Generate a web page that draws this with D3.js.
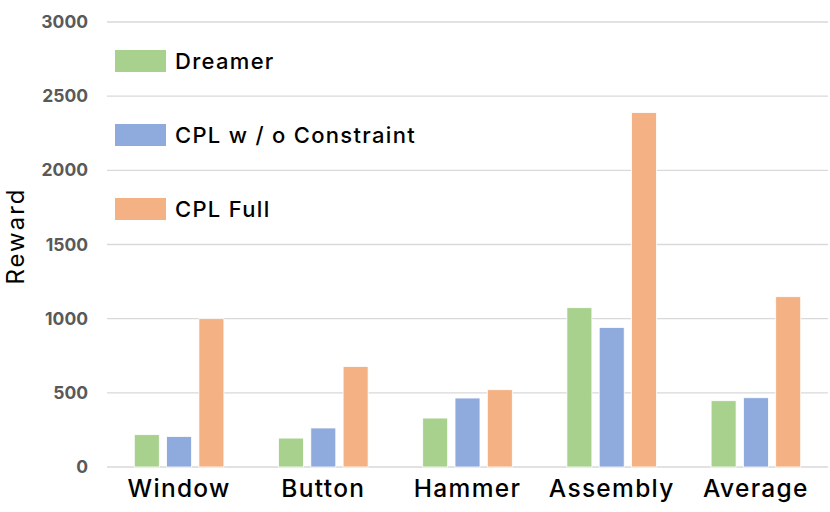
<!DOCTYPE html>
<html>
<head>
<meta charset="utf-8">
<script src="https://cdn.jsdelivr.net/npm/d3@7"></script>
<style>
  body { margin: 0; background: #fff; }
  svg { display: block; font-family: Inter, "Liberation Sans", Arial, sans-serif; }
</style>
</head>
<body>
<div id="chart"></div>
<script>
// chart data
const categories = ['Window', 'Button', 'Hammer', 'Assembly', 'Average'];
const seriesNames = ['Dreamer', 'CPL w / o Constraint', 'CPL Full'];
const dreamer = [218, 195, 330, 1074, 447];
const cplNoConstraint = [206, 263, 465, 941, 467];
const cplFull = [1000, 678, 521, 2389, 1148];
const yTicks = [0, 500, 1000, 1500, 2000, 2500, 3000];

const colors = ['#a9d18e', '#8faadc', '#f4b183'];
const allSeries = [dreamer, cplNoConstraint, cplFull];

const width = 830;
const height = 512;
const margin = { top: 22, right: 2, bottom: 45, left: 107 };
const font = 'Inter, "Liberation Sans", Arial, sans-serif';

const svg = d3.select('#chart')
  .append('svg')
  .attr('width', width)
  .attr('height', height);

const g = svg.append('g')
  .attr('transform', `translate(${margin.left},${margin.top})`);

const innerW = width - margin.left - margin.right;
const innerH = height - margin.top - margin.bottom;

const x = d3.scaleBand()
  .domain(categories)
  .range([0, innerW]);

const y = d3.scaleLinear()
  .domain([0, 3000])
  .range([innerH, 0]);

// gridlines
g.append('g')
  .selectAll('line')
  .data(yTicks)
  .enter().append('line')
  .attr('x1', 0)
  .attr('x2', innerW)
  .attr('y1', d => y(d))
  .attr('y2', d => y(d))
  .attr('stroke', '#d9d9d9')
  .attr('stroke-width', 1.3);

// y axis labels
const yAxis = g.append('g')
  .call(d3.axisLeft(y).tickValues(yTicks).tickFormat(d3.format('d')).tickSize(0).tickPadding(19));
yAxis.select('.domain').remove();
yAxis.selectAll('text')
  .attr('fill', '#595959')
  .style('font-size', '17.5px')
  .style('font-weight', '700')
  .style('font-family', font);

// bars
const barW = 25;
const step = 32.3;
allSeries.forEach((vals, si) => {
  g.append('g')
    .selectAll('rect')
    .data(vals)
    .enter().append('rect')
    .attr('x', (d, i) => x(categories[i]) + x.bandwidth() / 2 + (si - 1) * step - barW / 2)
    .attr('y', d => y(d))
    .attr('width', barW)
    .attr('height', d => innerH - y(d))
    .attr('fill', colors[si])
    .attr('stroke', '#fff')
    .attr('stroke-width', 0.8);
});

// x axis labels
const xAxis = g.append('g')
  .attr('transform', `translate(0,${innerH})`)
  .call(d3.axisBottom(x).tickSize(0).tickPadding(13));
xAxis.select('.domain').remove();
xAxis.selectAll('text')
  .attr('fill', '#000')
  .style('font-size', '24.5px')
  .style('font-weight', '500')
  .style('letter-spacing', '1.3px')
  .style('font-family', font);

// y axis title
svg.append('text')
  .attr('transform', 'translate(24,236) rotate(-90)')
  .attr('text-anchor', 'middle')
  .style('font-size', '24px')
  .style('font-weight', '400')
  .style('letter-spacing', '2px')
  .attr('fill', '#000')
  .text('Reward');

// legend
const legend = svg.append('g');
seriesNames.forEach((name, i) => {
  const ly = 50 + i * 74;
  legend.append('rect')
    .attr('x', 115)
    .attr('y', ly)
    .attr('width', 51)
    .attr('height', 22)
    .attr('fill', colors[i]);
  legend.append('text')
    .attr('x', 175)
    .attr('y', ly + 19)
    .style('font-size', '22px')
    .style('font-weight', '500')
    .style('letter-spacing', '1.3px')
    .attr('fill', '#000')
    .text(name);
});
</script>
</body>
</html>
